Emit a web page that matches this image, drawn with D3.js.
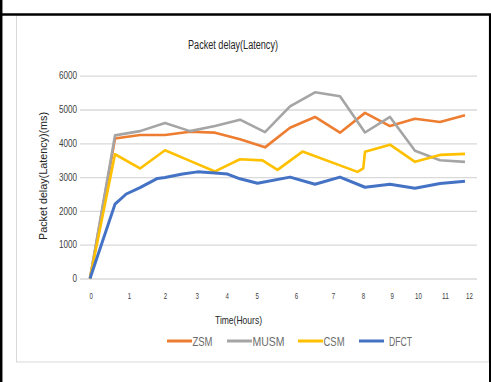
<!DOCTYPE html>
<html>
<head>
<meta charset="utf-8">
<script src="https://cdn.jsdelivr.net/npm/d3@7/dist/d3.min.js"></script>
<style>
  html, body { margin: 0; padding: 0; background: #fff; }
  svg { display: block; }
  text { font-family: "Liberation Sans", Arial, sans-serif; }
</style>
</head>
<body>
<svg id="chart" width="491" height="382"></svg>
<script>
// ---- data ----------------------------------------------------------------
// Samples are taken at irregular times; x is the sample number (0..15).
const sampleIdx = d3.range(16);

const zsmValues  = [0, 4140, 4245, 4245, 4340, 4315, 4120, 3880, 4460, 4780, 4315, 4900, 4510, 4725, 4630, 4830];
const musmValues = [0, 4235, 4360, 4600, 4360, 4510, 4700, 4330, 5090, 5510, 5390, 4320, 4780, 3780, 3500, 3450];

const csmIdx    = [0, 1, 2, 3, 4, 5, 6, 6.9, 7.5, 8.5, 10.7, 10.93, 11, 12, 13, 14, 15];
const csmValues = [0, 3676, 3255, 3794, 3480, 3167, 3529, 3495, 3215, 3755, 3155, 3260, 3750, 3960, 3451, 3657, 3686];

const dfctIdx    = [0, 1, 1.45, 2, 2.7, 3, 3.7, 4.3, 5, 5.5, 6, 6.7, 8, 9, 10, 11, 12, 13, 14, 15];
const dfctValues = [0, 2200, 2500, 2690, 2960, 2990, 3090, 3155, 3120, 3090, 2950, 2820, 3000, 2790, 3000, 2700, 2790, 2670, 2810, 2880];

const seriesNames  = ["ZSM", "MUSM", "CSM", "DFCT"];
const seriesColors = ["#ED7D31", "#A5A5A5", "#FFC000", "#4472C4"];

// hour labels and the sample position where each one sits on the axis
const hourLabels = ["0", "1", "2", "3", "4", "5", "6", "7", "8", "9", "10", "11", "12"];
const hourAtIdx  = [0.03, 1.56, 3.0, 4.27, 5.47, 6.67, 8.24, 9.72, 10.92, 12.07, 13.12, 14.2, 15.16];

const yTicks = [0, 1000, 2000, 3000, 4000, 5000, 6000];

// ---- layout --------------------------------------------------------------
const svg = d3.select("#chart");
const W = 491, H = 382;

// condensed text: squeeze a string into a given width
function narrow(sel, width) {
  sel.attr("textLength", width).attr("lengthAdjust", "spacingAndGlyphs");
}

svg.append("rect").attr("width", W).attr("height", H).attr("fill", "#fff");

// surrounding table cell borders
svg.append("rect").attr("x", 16.5).attr("y", 15).attr("width", 472.5).attr("height", 347)
  .attr("fill", "none").attr("stroke", "#d9d9d9").attr("stroke-width", 1);
svg.append("line").attr("x1", 0).attr("x2", W).attr("y1", 14.5).attr("y2", 14.5)
  .attr("stroke", "#000").attr("stroke-width", 2.5);
svg.append("line").attr("x1", 1.2).attr("x2", 1.2).attr("y1", 0).attr("y2", H)
  .attr("stroke", "#000").attr("stroke-width", 2.5);
svg.append("line").attr("x1", 490).attr("x2", 490).attr("y1", 14).attr("y2", H)
  .attr("stroke", "#000").attr("stroke-width", 2);

const x = d3.scaleLinear().domain([0, 15]).range([90, 465]);
const y = d3.scaleLinear().domain([0, 6000]).range([278.5, 75.7]);

// gridlines + y axis labels
const yAxis = d3.axisLeft(y).tickValues(yTicks).tickSize(0).tickPadding(3).tickFormat(d3.format("d"));
const gy = svg.append("g").attr("transform", "translate(80,0)").call(yAxis);
gy.select(".domain").remove();
gy.selectAll(".tick line").clone()
  .attr("x2", 397).attr("stroke", "#d9d9d9").attr("stroke-width", 1.3);
gy.selectAll(".tick text")
  .attr("font-size", 10).attr("fill", "#404040")
  .attr("font-family", "'Liberation Sans', Arial, sans-serif")
  .each(function (d) { narrow(d3.select(this), String(d).length * 4.5); });

// x axis hour labels
const xAxis = d3.axisBottom(x).tickValues(hourAtIdx).tickSize(0).tickPadding(0)
  .tickFormat((d, i) => hourLabels[i]);
const gx = svg.append("g").attr("transform", "translate(0,293)").call(xAxis);
gx.select(".domain").remove();
gx.selectAll(".tick text").attr("font-size", 8.5).attr("fill", "#404040")
  .each(function () { narrow(d3.select(this), d3.select(this).text().length * 3.4); });

// ---- series --------------------------------------------------------------
const line = d3.line().x(d => x(d[0])).y(d => y(d[1]));
const seriesPts = [
  sampleIdx.map((i, k) => [i, zsmValues[k]]),
  sampleIdx.map((i, k) => [i, musmValues[k]]),
  csmIdx.map((i, k) => [i, csmValues[k]]),
  dfctIdx.map((i, k) => [i, dfctValues[k]])
];
const widths = [2.6, 2.6, 2.6, 3.0];
seriesPts.forEach((pts, s) => {
  svg.append("path")
    .datum(pts)
    .attr("d", line)
    .attr("fill", "none")
    .attr("stroke", seriesColors[s])
    .attr("stroke-width", widths[s])
    .attr("stroke-linejoin", "round");
});

// ---- titles --------------------------------------------------------------
svg.append("text").attr("x", 188).attr("y", 48.5)
  .attr("font-size", 12.5).attr("fill", "#262626").text("Packet delay(Latency)")
  .call(narrow, 90);

svg.append("text")
  .attr("transform", "translate(47,240) rotate(-90)")
  .attr("font-size", 10).attr("fill", "#262626")
  .text("Packet delay(Latency)(ms)")
  .call(narrow, 128);

svg.append("text").attr("x", 215).attr("y", 324)
  .attr("font-size", 10.5).attr("fill", "#262626").text("Time(Hours)")
  .call(narrow, 47);

// ---- legend --------------------------------------------------------------
const legendX = [167, 227, 298, 359];
const legendTextW = [20, 32, 21, 23];
const lg = svg.append("g").attr("transform", "translate(0,341)");
seriesNames.forEach((name, i) => {
  const g = lg.append("g").attr("transform", `translate(${legendX[i]},0)`);
  g.append("line").attr("x1", 0).attr("x2", 25).attr("y1", 0).attr("y2", 0)
    .attr("stroke", seriesColors[i]).attr("stroke-width", 3);
  g.append("text").attr("x", i === 3 ? 30 : 25.5).attr("y", 4.5)
    .attr("font-size", 12.5).attr("fill", "#6b6b6b").text(name)
    .call(narrow, legendTextW[i]);
});
</script>
</body>
</html>
